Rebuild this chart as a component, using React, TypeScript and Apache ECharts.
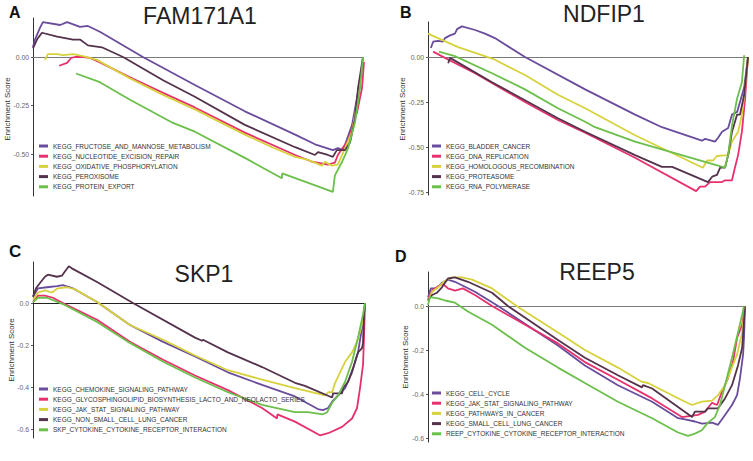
import React, { useEffect, useRef } from "react";
import * as echarts from "echarts";

// ---------- colours ----------
const PURPLE = "#6A4C9C";
const PINK = "#E6316D";
const YELLOW = "#D7D23C";
const DARK = "#55324C";
const GREEN = "#6BBF4A";

// ---------- Panel A : FAM171A1 ----------
const aNames = [
  "KEGG_FRUCTOSE_AND_MANNOSE_METABOLISM",
  "KEGG_NUCLEOTIDE_EXCISION_REPAIR",
  "KEGG_OXIDATIVE_PHOSPHORYLATION",
  "KEGG_PEROXISOME",
  "KEGG_PROTEIN_EXPORT",
];
const aColors = [PURPLE, PINK, YELLOW, DARK, GREEN];
const aFructose = [[0,0.05],[0.6,0.09],[2.1,0.15],[3.0,0.18],[8.2,0.165],[10.3,0.18],[14.2,0.155],[16.6,0.16],[20.2,0.13],[33.2,0],[48.9,-0.144],[64.0,-0.28],[79.2,-0.40],[85.2,-0.45],[90.6,-0.48],[92.1,-0.47],[93.7,-0.48],[96.4,-0.35],[98.2,-0.18],[99.4,-0.06],[99.7,-0.025]];
const aNucleotide = [[7.9,-0.045],[10.3,-0.03],[11.5,-0.005],[12.7,0],[15.1,0],[17.2,-0.005],[19.9,-0.025],[29.3,-0.105],[39.3,-0.185],[48.9,-0.26],[64.0,-0.39],[79.2,-0.505],[84.3,-0.54],[89.1,-0.555],[91.2,-0.545],[92.1,-0.505],[93.7,-0.465],[95.2,-0.43],[96.4,-0.365],[97.9,-0.285],[99.4,-0.16],[100,-0.025]];
const aOxidative = [[3.6,-0.015],[4.5,0.015],[7.3,0.015],[9.1,0.01],[12.1,0.015],[15.1,0.005],[19.3,-0.015],[29.3,-0.11],[39.3,-0.195],[48.9,-0.27],[64.0,-0.40],[72.2,-0.465],[79.2,-0.515],[83.1,-0.53],[87.3,-0.56],[88.2,-0.54],[90.3,-0.56],[92.1,-0.555],[93.4,-0.505],[94.9,-0.445],[96.4,-0.385],[98.2,-0.21],[99.4,-0.04],[99.7,0]];
const aPeroxisome = [[0,0.045],[1.2,0.09],[2.7,0.125],[7.3,0.105],[12.1,0.09],[14.2,0.09],[16.6,0.06],[20.8,0.05],[27.2,0],[39.3,-0.12],[48.9,-0.205],[64.0,-0.35],[79.2,-0.465],[85.2,-0.505],[86.1,-0.49],[89.1,-0.505],[90.6,-0.515],[91.8,-0.48],[94.3,-0.48],[95.8,-0.44],[97.3,-0.315],[98.2,-0.16],[99.7,0]];
const aProtein = [[13.0,-0.085],[20.2,-0.13],[29.3,-0.22],[42.3,-0.34],[48.9,-0.385],[64.0,-0.52],[75.2,-0.625],[75.3,-0.60],[90.6,-0.695],[91.2,-0.61],[93.4,-0.54],[95.2,-0.47],[97.3,-0.335],[98.8,-0.16],[99.7,0]];
const aTicks = [-0.5, -0.25, 0];

// ---------- Panel B : NDFIP1 ----------
const bNames = [
  "KEGG_BLADDER_CANCER",
  "KEGG_DNA_REPLICATION",
  "KEGG_HOMOLOGOUS_RECOMBINATION",
  "KEGG_PROTEASOME",
  "KEGG_RNA_POLYMERASE",
];
const bColors = [PURPLE, PINK, YELLOW, DARK, GREEN];
const bBladder = [[0.9,0.05],[1.6,0.085],[3.1,0.09],[4.7,0.085],[5.3,0.105],[6.9,0.12],[8.4,0.13],[9.1,0.155],[10.6,0.17],[14.7,0.15],[17.8,0.13],[20.9,0.105],[30.3,0],[49.1,-0.18],[64.7,-0.32],[73.1,-0.39],[85.6,-0.465],[86.6,-0.455],[89.7,-0.47],[90.6,-0.45],[91.9,-0.415],[93.8,-0.395],[95,-0.32],[96.6,-0.305],[97.5,-0.25],[98.8,-0.17],[100,0]];
const bDna = [[1.6,0.03],[5.3,-0.005],[14.7,-0.09],[30.3,-0.25],[40.6,-0.35],[49.1,-0.42],[64.7,-0.56],[83.8,-0.745],[85,-0.72],[86.6,-0.72],[88.1,-0.695],[91.9,-0.695],[92.8,-0.685],[95,-0.685],[95.9,-0.615],[96.9,-0.545],[98.1,-0.415],[99.1,-0.23],[100,0]];
const bHomologous = [[0,0.13],[9.4,0.055],[20.3,-0.01],[30.3,-0.1],[40.6,-0.21],[49.1,-0.285],[64.7,-0.435],[85.9,-0.615],[87.2,-0.575],[89.1,-0.575],[90.3,-0.55],[93.8,-0.545],[95,-0.47],[96.9,-0.415],[98.1,-0.32],[99.1,-0.17],[100,0]];
const bProteasome = [[6.3,-0.035],[6.9,-0.005],[20,-0.14],[30.3,-0.24],[40.6,-0.34],[49.1,-0.415],[64.7,-0.545],[73.1,-0.61],[76.3,-0.61],[87.5,-0.695],[88.8,-0.665],[90.3,-0.655],[91.3,-0.615],[92.8,-0.615],[93.8,-0.545],[95,-0.415],[96.6,-0.32],[97.5,-0.32],[98.8,-0.21],[100,0]];
const bRna = [[3.4,0.03],[8.4,0.005],[20,-0.09],[30.3,-0.18],[40.6,-0.285],[49.1,-0.36],[52.2,-0.39],[64.7,-0.47],[76.3,-0.53],[92.8,-0.615],[93.8,-0.545],[95,-0.38],[96.6,-0.23],[98.1,-0.14],[98.8,0.01]];
const bTicks = [-0.75, -0.5, -0.25, 0];

// ---------- Panel C : SKP1 ----------
const cNames = [
  "KEGG_CHEMOKINE_SIGNALING_PATHWAY",
  "KEGG_GLYCOSPHINGOLIPID_BIOSYNTHESIS_LACTO_AND_NEOLACTO_SERIES",
  "KEGG_JAK_STAT_SIGNALING_PATHWAY",
  "KEGG_NON_SMALL_CELL_LUNG_CANCER",
  "SKP_CYTOKINE_CYTOKINE_RECEPTOR_INTERACTION",
];
const cColors = [PURPLE, PINK, YELLOW, DARK, GREEN];
const cChemokine = [[0,0.03],[1.5,0.07],[4.2,0.075],[7.2,0.08],[9.0,0.085],[12.0,0.07],[19.3,0.005],[29.2,-0.105],[39.2,-0.185],[48.8,-0.255],[58.7,-0.33],[69.0,-0.39],[78.9,-0.445],[85.8,-0.505],[87.3,-0.51],[88.9,-0.5],[90.1,-0.47],[91.9,-0.44],[94.0,-0.405],[96.1,-0.33],[97.9,-0.235],[99.4,-0.09],[100,0]];
const cGlyco = [[0,0.005],[1.5,0.035],[3.6,0.035],[6.0,0.025],[9.0,0],[19.3,-0.08],[29.2,-0.185],[39.2,-0.27],[48.8,-0.345],[58.7,-0.415],[69.0,-0.5],[73.5,-0.55],[73.6,-0.53],[78.9,-0.565],[86.4,-0.63],[88.9,-0.62],[93.1,-0.59],[96.1,-0.55],[97.6,-0.5],[98.5,-0.405],[99.4,-0.295],[99.7,-0.165],[100,0]];
const cJakStat = [[0,0.015],[1.5,0.05],[3.6,0.06],[5.7,0.05],[7.5,0.07],[10.2,0.075],[12.7,0.065],[19.3,0.005],[29.2,-0.105],[39.2,-0.175],[48.8,-0.25],[58.7,-0.32],[69.0,-0.365],[78.9,-0.405],[88.0,-0.44],[88.9,-0.425],[90.1,-0.425],[91.0,-0.38],[92.5,-0.33],[94.0,-0.28],[96.1,-0.235],[97.6,-0.185],[99.1,-0.105],[100,0]];
const cNsclc = [[0,0.03],[0.9,0.07],[2.1,0.095],[3.6,0.125],[4.5,0.135],[7.2,0.125],[8.7,0.13],[9.6,0.15],[10.8,0.175],[11.7,0.165],[19.3,0.1],[30.1,0],[48.8,-0.165],[50.9,-0.18],[51.2,-0.175],[58.7,-0.235],[69.0,-0.305],[78.9,-0.38],[81.9,-0.395],[90.1,-0.45],[90.4,-0.43],[93.1,-0.43],[93.4,-0.405],[94.9,-0.375],[96.4,-0.31],[97.9,-0.235],[99.1,-0.215],[99.4,-0.19],[99.7,-0.055],[100,0]];
const cCytokine = [[0,0.005],[1.5,0.025],[4.2,0.025],[9.0,-0.005],[19.3,-0.09],[29.2,-0.19],[39.2,-0.28],[48.8,-0.355],[58.7,-0.425],[69.0,-0.485],[78.9,-0.52],[82.8,-0.52],[87.3,-0.53],[88.6,-0.52],[90.1,-0.475],[91.9,-0.44],[94.0,-0.375],[96.1,-0.28],[97.9,-0.165],[99.4,-0.055],[100,0]];
const cTicks = [-0.6, -0.4, -0.2, 0];

// ---------- Panel D : REEP5 ----------
const dNames = [
  "KEGG_CELL_CYCLE",
  "KEGG_JAK_STAT_SIGNALING_PATHWAY",
  "KEGG_PATHWAYS_IN_CANCER",
  "KEGG_SMALL_CELL_LUNG_CANCER",
  "REEP_CYTOKINE_CYTOKINE_RECEPTOR_INTERACTION",
];
const dColors = [PURPLE, PINK, YELLOW, DARK, GREEN];
const dCellCycle = [[0,0.04],[0.9,0.08],[2.8,0.08],[4.4,0.105],[6.3,0.12],[8.5,0.11],[14.8,0.065],[22.1,0],[41.0,-0.18],[49.5,-0.27],[59.9,-0.36],[70.7,-0.435],[78.9,-0.51],[81.1,-0.515],[84.2,-0.525],[86.4,-0.535],[89.6,-0.53],[91.5,-0.54],[93.7,-0.495],[95.9,-0.45],[97.5,-0.405],[98.4,-0.33],[99.4,-0.22],[99.7,-0.14],[100,0]];
const dJakStat = [[0,0.03],[1.3,0.07],[3.2,0.09],[4.7,0.1],[6.3,0.08],[8.5,0.07],[11.0,0.08],[14.8,0.05],[20.2,0],[41.0,-0.17],[49.5,-0.255],[59.9,-0.335],[70.7,-0.42],[80.1,-0.505],[85.2,-0.495],[87.4,-0.48],[89.6,-0.44],[91.2,-0.45],[92.7,-0.39],[94.6,-0.33],[96.2,-0.255],[97.5,-0.145],[99.1,-0.085],[100,0]];
const dPathways = [[0,0.02],[1.3,0.065],[3.2,0.085],[5.4,0.115],[7.6,0.13],[10.7,0.13],[13.9,0.12],[20.2,0.08],[28.4,-0.005],[41.0,-0.12],[49.5,-0.2],[59.9,-0.28],[67.5,-0.345],[69.4,-0.35],[81.1,-0.435],[83.3,-0.45],[86.4,-0.435],[89.6,-0.43],[91.5,-0.405],[93.7,-0.36],[95.3,-0.3],[97.5,-0.22],[99.1,-0.12],[100,0]];
const dSmallCell = [[0,0.025],[1.3,0.05],[2.8,0.06],[4.4,0.085],[6.3,0.125],[8.5,0.13],[12.6,0.11],[20.2,0.06],[25.2,0],[41.0,-0.155],[49.5,-0.235],[59.9,-0.315],[67.5,-0.37],[67.8,-0.36],[70.7,-0.375],[83.3,-0.505],[84.2,-0.48],[87.4,-0.48],[88.3,-0.465],[91.5,-0.465],[93.7,-0.42],[95.9,-0.36],[97.8,-0.27],[99.1,-0.19],[100,0]];
const dCytokine = [[0,0.005],[0.6,0.04],[3.2,0.035],[5.4,0.025],[8.5,0.015],[12.6,-0.025],[20.2,-0.085],[30.6,-0.19],[41.0,-0.28],[49.5,-0.35],[59.9,-0.435],[70.7,-0.51],[78.9,-0.575],[82.0,-0.59],[84.2,-0.58],[86.4,-0.565],[88.3,-0.53],[90.5,-0.505],[92.1,-0.45],[93.7,-0.36],[95.9,-0.235],[97.8,-0.12],[99.1,-0.04],[99.7,0]];
const dTicks = [-0.6, -0.4, -0.2, 0];

const FONT = "'Liberation Sans', Arial, Helvetica, sans-serif";

type Panel = {
  key: string;
  letter: string;
  title: string;
  names: string[];
  colors: string[];
  data: number[][][];
  ticks: number[];
  digits: number;
  grid: { left: number; top: number; width: number; height: number };
  yMin: number;
  yMax: number;
  zeroColor: string;
  legendPos: { left: number; top: number };
  letterPos: [number, number, number];
  titlePos: [number, number];
  ylabelPos: [number, number];
};

const panels: Panel[] = [
  {
    key: "A", letter: "A", title: "FAM171A1", names: aNames, colors: aColors,
    data: [aFructose, aNucleotide, aOxidative, aPeroxisome, aProtein],
    ticks: aTicks, digits: 2,
    grid: { left: 33, top: 18, width: 331, height: 178 },
    yMin: -139 / 194, yMax: 39 / 194, zeroColor: "#7a7a7a",
    legendPos: { left: 39, top: 142 },
    letterPos: [9, 12, 16], titlePos: [200, 16], ylabelPos: [7, 109],
  },
  {
    key: "B", letter: "B", title: "NDFIP1", names: bNames, colors: bColors,
    data: [bBladder, bDna, bHomologous, bProteasome, bRna],
    ticks: bTicks, digits: 2,
    grid: { left: 428, top: 22, width: 320, height: 173 },
    yMin: -138 / 180, yMax: 35 / 180, zeroColor: "#7a7a7a",
    legendPos: { left: 432, top: 142 },
    letterPos: [400, 12, 16], titlePos: [604, 14], ylabelPos: [402, 109],
  },
  {
    key: "C", letter: "C", title: "SKP1", names: cNames, colors: cColors,
    data: [cChemokine, cGlyco, cJakStat, cNsclc, cCytokine],
    ticks: cTicks, digits: 1,
    grid: { left: 33, top: 262, width: 332, height: 176 },
    yMin: -135 / 210, yMax: 41 / 210, zeroColor: "#222222",
    legendPos: { left: 39, top: 385 },
    letterPos: [9, 251, 17], titlePos: [204, 274], ylabelPos: [11, 350],
  },
  {
    key: "D", letter: "D", title: "REEP5", names: dNames, colors: dColors,
    data: [dCellCycle, dJakStat, dPathways, dSmallCell, dCytokine],
    ticks: dTicks, digits: 1,
    grid: { left: 428, top: 272, width: 317, height: 170 },
    yMin: -136 / 220, yMax: 34 / 220, zeroColor: "#7a7a7a",
    legendPos: { left: 432, top: 389 },
    letterPos: [395, 256, 16], titlePos: [597, 272], ylabelPos: [405, 357],
  },
];

function buildOption() {
  const grids: any[] = [];
  const xAxes: any[] = [];
  const yAxes: any[] = [];
  const series: any[] = [];
  const legends: any[] = [];
  const graphics: any[] = [];

  panels.forEach((p, i) => {
    grids.push({ ...p.grid });
    xAxes.push({ type: "value", gridIndex: i, min: 0, max: 100, show: false });
    yAxes.push({
      type: "value",
      gridIndex: i,
      min: p.yMin,
      max: p.yMax,
      axisLine: { show: true, lineStyle: { color: "#333", width: 1 } },
      axisTick: { show: true, length: 2, customValues: p.ticks, lineStyle: { color: "#555" } },
      axisLabel: {
        show: true,
        customValues: p.ticks,
        formatter: (v: number) => v.toFixed(p.digits),
        fontSize: 6.8,
        color: "#666",
        margin: 4,
        fontFamily: FONT,
      },
      splitLine: { show: false },
    });
    p.names.forEach((n, j) => {
      series.push({
        type: "line",
        name: p.key + ":" + n,
        xAxisIndex: i,
        yAxisIndex: i,
        data: p.data[j],
        showSymbol: false,
        symbol: "none",
        lineStyle: { width: 1.8, color: p.colors[j] },
        itemStyle: { color: p.colors[j] },
        z: 3,
        markLine:
          j === 0
            ? {
                silent: true,
                symbol: "none",
                label: { show: false },
                lineStyle: { color: p.zeroColor, width: 1, type: "solid" },
                data: [{ yAxis: 0 }],
                z: 2,
              }
            : undefined,
      });
    });
    legends.push({
      orient: "vertical",
      left: p.legendPos.left,
      top: p.legendPos.top,
      icon: "rect",
      itemWidth: 9,
      itemHeight: 3,
      itemGap: 2.2,
      padding: 0,
      selectedMode: false,
      data: p.names.map((n) => p.key + ":" + n),
      formatter: (name: string) => name.slice(2),
      textStyle: { fontSize: 6.5, lineHeight: 8, color: "#333", fontFamily: FONT },
    });
    graphics.push({
      type: "text",
      x: p.letterPos[0],
      y: p.letterPos[1],
      style: {
        text: p.letter,
        fontSize: p.letterPos[2],
        fontWeight: "bold",
        fill: "#111",
        fontFamily: FONT,
        textVerticalAlign: "middle",
      },
    });
    graphics.push({
      type: "text",
      x: p.titlePos[0],
      y: p.titlePos[1],
      style: {
        text: p.title,
        fontSize: 23,
        fill: "#222",
        fontFamily: FONT,
        textAlign: "center",
        textVerticalAlign: "middle",
      },
    });
    graphics.push({
      type: "text",
      x: p.ylabelPos[0],
      y: p.ylabelPos[1],
      rotation: Math.PI / 2,
      style: {
        text: "Enrichment Score",
        fontSize: 8,
        fill: "#333",
        fontFamily: FONT,
        textAlign: "center",
        textVerticalAlign: "middle",
      },
    });
  });

  return {
    animation: false,
    backgroundColor: "#ffffff",
    grid: grids,
    xAxis: xAxes,
    yAxis: yAxes,
    legend: legends,
    series,
    graphic: graphics,
  };
}

export default function App() {
  const ref = useRef<HTMLDivElement>(null);
  useEffect(() => {
    if (!ref.current) return;
    const chart = echarts.init(ref.current, null, { renderer: "svg" });
    chart.setOption(buildOption() as any);
    return () => chart.dispose();
  }, []);
  return (
    <div
      ref={ref}
      style={{ width: 753, height: 461, position: "absolute", left: 0, top: 0, background: "#fff" }}
    />
  );
}
